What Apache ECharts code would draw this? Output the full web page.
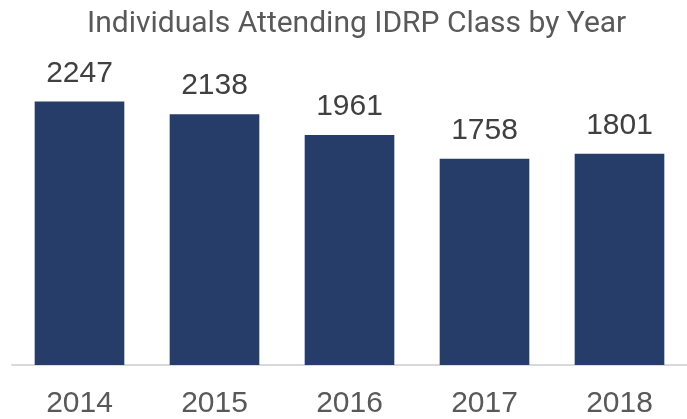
<!DOCTYPE html>
<html>
<head>
<meta charset="utf-8">
<script src="https://cdn.jsdelivr.net/npm/echarts@6/dist/echarts.min.js"></script>
<style>
  html, body { margin: 0; padding: 0; background: #fff; }
  #chart { width: 687px; height: 419px; }
</style>
</head>
<body>
<div id="chart"></div>
<script>
const years = ['2014', '2015', '2016', '2017', '2018']
const attendees = [2247, 2138, 1961, 1758, 1801]

const chart = echarts.init(document.getElementById('chart'))

chart.setOption({
  backgroundColor: '#ffffff',
  animation: false,
  title: {
    text: 'Individuals Attending IDRP Class by Year',
    left: 82,
    top: 4,
    textStyle: {
      fontFamily: 'Roboto',
      fontWeight: 'normal',
      fontSize: 30,
      color: '#595959',
    },
  },
  grid: {
    left: 12,
    right: -3,
    top: 60,
    bottom: 49,
  },
  xAxis: {
    type: 'category',
    data: years,
    axisLine: {
      lineStyle: { color: '#d9d9d9', width: 2 },
    },
    axisTick: { show: false },
    axisLabel: {
      margin: 24,
      fontFamily: 'Liberation Sans',
      fontSize: 30,
      color: '#595959',
    },
  },
  yAxis: {
    type: 'value',
    min: 0,
    max: 2600,
    show: false,
    splitLine: { show: false },
  },
  series: [
    {
      type: 'bar',
      data: attendees,
      barCategoryGap: '33.6%',
      itemStyle: { color: '#253d68' },
      label: {
        show: true,
        position: 'top',
        distance: 13,
        fontFamily: 'Liberation Sans',
        fontSize: 30,
        color: '#404040',
      },
    },
  ],
})
</script>
</body>
</html>
